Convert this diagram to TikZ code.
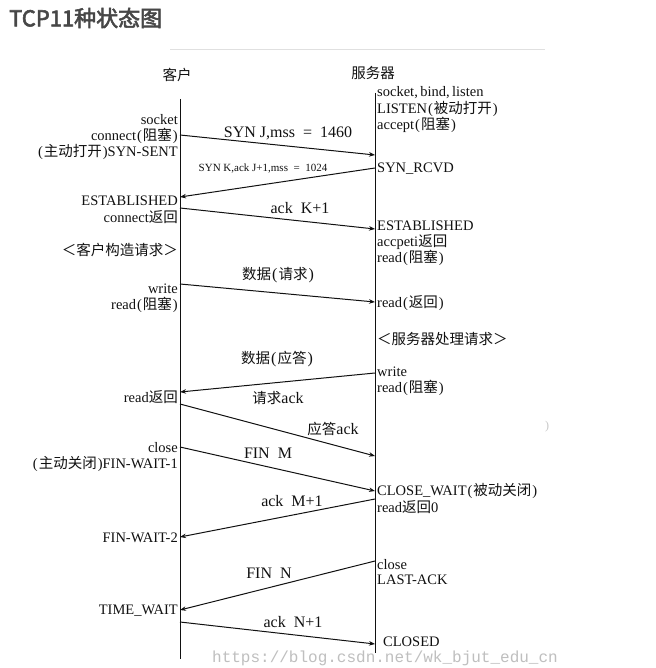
\documentclass[tikz,border=0pt]{standalone}
\usepackage{fontspec}
\setmainfont{Liberation Serif}
\newfontfamily\zhfont{Noto Sans CJK SC}
\newfontfamily\titlefont[AutoFakeBold=2.5]{Noto Sans CJK SC}
\newfontfamily\wmfont{Liberation Mono}
\usetikzlibrary{arrows.meta}
\newcommand\zhtxt[1]{{\zhfont\fontsize{14.5}{15}\selectfont #1}}
\newcommand\lp{\kern1pt(\kern1pt}
\newcommand\rp{\kern1pt)}
\definecolor{ink}{HTML}{111111}
\begin{document}
\begin{tikzpicture}[x=1pt,y=-1pt,
  lt/.style={anchor=east, inner sep=0pt, text=ink, font=\fontsize{14.5}{15}\selectfont},
  rt/.style={anchor=west, inner sep=0pt, text=ink, font=\fontsize{14.5}{15}\selectfont},
  msg/.style={inner sep=0pt, text=ink, font=\fontsize{16}{17}\selectfont},
  head/.style={inner sep=0pt, text=ink, font=\zhfont\fontsize{14.5}{16}\selectfont},
  life/.style={line width=1pt, draw=ink},
  arr/.style={line width=1pt, draw=ink, -{Stealth[length=6pt,width=4.5pt]}}]
\useasboundingbox (0,0) rectangle (655,668);
\fill[white] (0,0) rectangle (655,668);

% title
\node[anchor=west, inner sep=0pt, text=black!72, font=\titlefont\bfseries\fontsize{22}{24}\selectfont] (title) at (9,18) {TCP11种状态图};
\draw[black!12, line width=0.6pt] (170,49) -- (545,49);

% headers
\node[head] (client) at (177,75) {客户};
\node[head] (server) at (373,73) {服务器};

% lifelines
\coordinate (Ltop) at (180,99);
\coordinate (Lbot) at (180,659);
\coordinate (Rtop) at (375,93);
\coordinate (Rbot) at (375,653);
\draw[life] (Ltop) -- (Lbot);
\draw[life] (Rtop) -- (Rbot);

% left labels
\node[lt] (l1) at (178,120) {socket};
\node[lt] (l2) at (178,136) {connect\lp\zhtxt{阻塞}\rp};
\node[lt] (l3) at (178,152) {(\kern1pt\zhtxt{主动打开}\kern1pt)SYN-SENT};
\node[lt] (l4) at (178,201) {ESTABLISHED};
\node[lt] (l5) at (178,217) {connect\zhtxt{返回}};
\node[lt] (l6) at (178,250) {\zhtxt{＜客户构造请求＞}};
\node[lt] (l7) at (178,289) {write};
\node[lt] (l8) at (178,305) {read\lp\zhtxt{阻塞}\rp};
\node[lt] (l9) at (178,397) {read\zhtxt{返回}};
\node[lt] (l10) at (178,448) {close};
\node[lt] (l11) at (178,464) {(\kern1pt\zhtxt{主动关闭}\kern1pt)FIN-WAIT-1};
\node[lt] (l12) at (178,538) {FIN-WAIT-2};
\node[lt] (l13) at (178,611) {TIME\_WAIT};

% right labels
\node[rt] (r1) at (377,93) {socket,\,bind,\,listen};
\node[rt] (r2) at (377,109) {LISTEN\lp\zhtxt{被动打开}\rp};
\node[rt] (r3) at (377,125) {accept\lp\zhtxt{阻塞}\rp};
\node[rt] (r4) at (377,169) {SYN\_RCVD};
\node[rt] (r5) at (377,226) {ESTABLISHED};
\node[rt] (r6) at (377,242) {accpeti\zhtxt{返回}};
\node[rt] (r7) at (377,258) {read\lp\zhtxt{阻塞}\rp};
\node[rt] (r8) at (377,303) {read\lp\zhtxt{返回}\rp};
\node[rt] (r9) at (377,339) {\zhtxt{＜服务器处理请求＞}};
\node[rt] (r10) at (377,372) {write};
\node[rt] (r11) at (377,388) {read\lp\zhtxt{阻塞}\rp};
\node[rt] (r12) at (377,491) {CLOSE\_WAIT\lp\zhtxt{被动关闭}\rp};
\node[rt] (r13) at (377,507) {read\zhtxt{返回}0};
\node[rt] (r14) at (377,565) {close};
\node[rt] (r15) at (377,580) {LAST-ACK};
\node[rt] (r16) at (383,642) {CLOSED};

% arrow endpoints
\coordinate (a1s) at (180,135);  \coordinate (a1e) at (375,155);
\coordinate (a2s) at (375,168);  \coordinate (a2e) at (180,197);
\coordinate (a3s) at (180,208);  \coordinate (a3e) at (375,229);
\coordinate (a4s) at (180,284);  \coordinate (a4e) at (375,302);
\coordinate (a5s) at (375,373);  \coordinate (a5e) at (180,392);
\coordinate (a6s) at (180,404);  \coordinate (a6e) at (375,456);
\coordinate (a7s) at (180,447);  \coordinate (a7e) at (375,491);
\coordinate (a8s) at (375,499);  \coordinate (a8e) at (180,537);
\coordinate (a9s) at (375,561);  \coordinate (a9e) at (180,610);
\coordinate (a10s) at (180,622); \coordinate (a10e) at (375,644);
\foreach \i in {1,...,10} {\draw[arr] (a\i s) -- (a\i e);}

% message labels
\node[msg] (m1) at (288,133) {SYN J,mss\enspace=\enspace1460};
\node[msg, font=\fontsize{11}{12}\selectfont] (m2) at (263,169) {SYN K,ack J+1,mss\enspace=\enspace1024};
\node[msg] (m3) at (300,208) {ack\enspace K+1};
\node[msg] (m4) at (278,275) {\zhtxt{数据}\lp\zhtxt{请求}\rp};
\node[msg] (m5) at (277,359) {\zhtxt{数据}\lp\zhtxt{应答}\rp};
\node[msg] (m6) at (278,398) {\zhtxt{请求}ack};
\node[msg] (m7) at (333,429) {\zhtxt{应答}ack};
\node[msg] (m8) at (268,453) {FIN\enspace M};
\node[msg] (m9) at (292,501) {ack\enspace M+1};
\node[msg] (m10) at (269,573) {FIN\enspace N};
\node[msg] (m11) at (293,622) {ack\enspace N+1};

% artefacts
\node[inner sep=0pt, text=black!22, font=\fontsize{12}{12}\selectfont] (dot) at (547,427) {)};
\node[inner sep=0pt, text=black!25, font=\wmfont\fontsize{16}{18}\selectfont] (wm) at (385,658) {https://blog.csdn.net/wk\_bjut\_edu\_cn};
\end{tikzpicture}
\end{document}
